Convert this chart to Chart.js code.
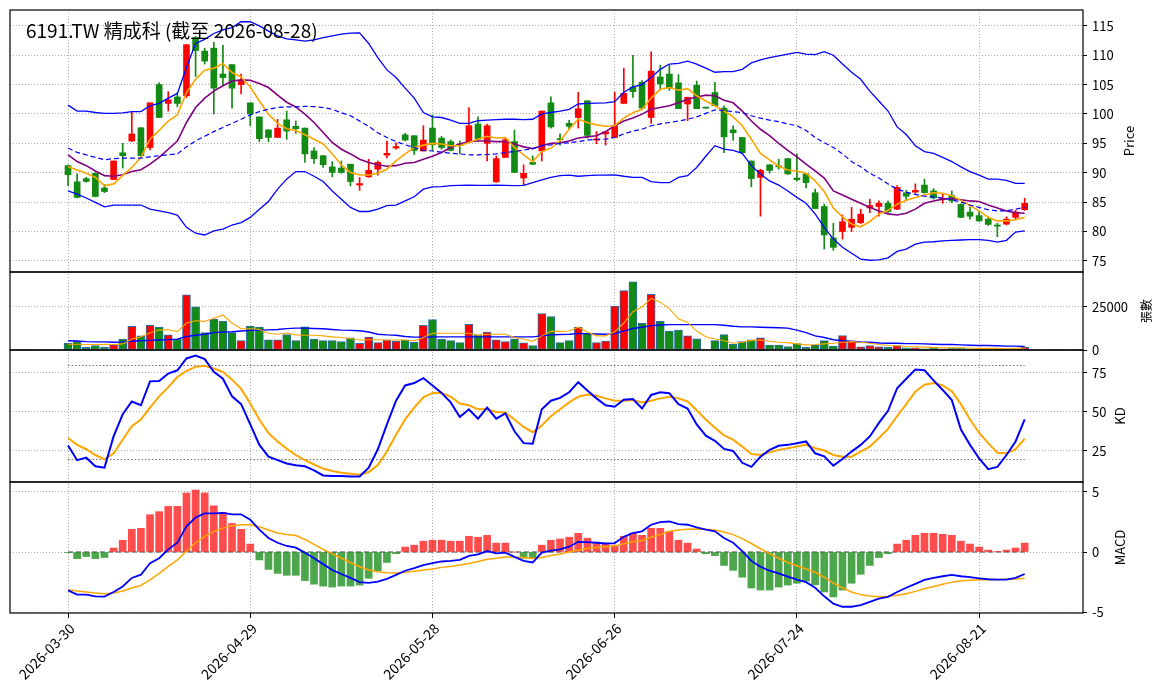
<!DOCTYPE html>
<html><head><meta charset="utf-8">
<script src="https://cdn.jsdelivr.net/npm/chart.js@4.4.1/dist/chart.umd.min.js"></script>
<style>html,body{margin:0;padding:0;background:#fff;}canvas{display:block;}</style>
</head><body>
<canvas id="c" width="1164" height="698"></canvas>
<script>
const dates = ['2026-03-30','2026-03-31','2026-04-01','2026-04-02','2026-04-07','2026-04-08','2026-04-09','2026-04-10','2026-04-13','2026-04-14','2026-04-15','2026-04-16','2026-04-17','2026-04-20','2026-04-21','2026-04-22','2026-04-23','2026-04-24','2026-04-27','2026-04-28','2026-04-29',
'2026-04-30','2026-05-04','2026-05-05','2026-05-06','2026-05-07','2026-05-08','2026-05-11','2026-05-12','2026-05-13','2026-05-14','2026-05-15','2026-05-18','2026-05-19','2026-05-20','2026-05-21','2026-05-22','2026-05-25','2026-05-26','2026-05-27','2026-05-28',
'2026-05-29','2026-06-01','2026-06-02','2026-06-03','2026-06-04','2026-06-05','2026-06-08','2026-06-09','2026-06-10','2026-06-11','2026-06-12','2026-06-15','2026-06-16','2026-06-17','2026-06-18','2026-06-22','2026-06-23','2026-06-24','2026-06-25','2026-06-26',
'2026-06-29','2026-06-30','2026-07-01','2026-07-02','2026-07-03','2026-07-06','2026-07-07','2026-07-08','2026-07-09','2026-07-10','2026-07-13','2026-07-14','2026-07-15','2026-07-16','2026-07-17','2026-07-20','2026-07-21','2026-07-22','2026-07-23','2026-07-24',
'2026-07-27','2026-07-28','2026-07-29','2026-07-30','2026-07-31','2026-08-03','2026-08-04','2026-08-05','2026-08-06','2026-08-07','2026-08-10','2026-08-11','2026-08-12','2026-08-13','2026-08-14','2026-08-17','2026-08-18','2026-08-19','2026-08-20','2026-08-21',
'2026-08-24','2026-08-25','2026-08-26','2026-08-27','2026-08-28'];

const opens = [91.2,88.45,89.0,89.9,87.4,88.85,93.4,95.4,97.65,94.3,105.0,101.8,102.9,103.1,113.0,110.7,111.2,106.8,108.4,105.0,101.9,99.5,97.3,96.0,99.0,97.9,97.6,93.7,92.9,91.0,90.8,91.45,87.9,89.3,90.6,93.0,94.2,96.45,96.3,93.7,97.6,95.9,95.3,94.9,95.3,98.3,95.0,88.45,92.6,95.3,89.1,91.75,93.7,101.9,95.8,98.4,99.4,102.25,95.55,96.6,96.0,101.8,104.6,105.4,99.4,106.3,106.8,105.3,101.7,104.9,101.1,103.65,101.0,97.3,96.0,92.0,89.2,91.35,91.15,92.4,89.1,89.8,86.6,84.25,78.9,80.0,80.7,81.5,84.0,84.25,84.8,83.8,86.6,86.7,87.9,86.9,85.4,86.1,84.6,83.3,82.7,82.1,81.1,81.25,82.4,83.7];
const highs = [91.3,89.8,89.2,90.0,88.0,92.0,95.0,100.4,97.7,101.9,105.3,103.8,103.6,111.8,113.2,111.2,112.2,111.7,108.4,106.8,101.9,99.5,97.3,99.1,100.5,98.8,97.6,94.3,92.9,91.9,92.0,91.45,89.2,92.3,92.0,95.4,95.1,96.7,96.3,98.0,99.85,96.2,95.6,95.4,101.1,99.5,98.3,92.85,96.0,97.25,91.35,92.85,100.5,102.9,96.6,98.9,103.7,102.25,97.0,96.95,103.7,107.8,110.0,105.7,110.6,108.3,108.3,106.7,102.85,105.6,101.15,105.4,101.4,98.0,96.0,92.0,90.6,91.35,92.3,92.4,93.2,89.9,87.2,84.65,81.4,82.8,84.1,83.8,85.5,85.2,85.2,87.8,87.0,88.1,88.9,87.3,86.5,86.9,84.7,84.1,83.5,82.5,81.4,82.5,83.6,85.65];
const lows = [87.8,85.7,88.4,85.9,86.6,88.8,90.8,95.3,92.8,93.9,99.4,100.5,101.2,102.8,106.4,108.5,100.0,105.0,101.0,103.4,98.0,95.3,95.3,96.0,95.7,96.7,91.75,91.6,90.9,89.3,89.9,87.75,87.0,89.2,89.6,92.5,94.0,95.4,93.1,93.7,93.8,94.0,93.7,93.2,95.3,95.4,92.0,88.35,92.6,90.05,87.9,91.35,92.0,97.6,94.7,97.4,97.6,95.9,94.95,94.7,96.0,101.8,102.8,100.8,98.4,104.1,104.0,100.9,98.85,100.9,100.95,101.4,93.4,95.5,93.4,87.6,82.6,89.9,90.6,89.7,88.6,87.4,83.9,77.0,76.8,78.7,80.0,81.3,83.2,82.6,83.2,83.7,85.3,86.5,86.5,85.5,84.8,84.9,82.4,82.1,81.7,81.0,79.1,81.1,82.0,83.6];
const closes = [89.65,85.8,88.5,85.95,86.8,92.0,92.9,96.6,92.9,101.9,99.4,102.4,101.8,111.8,110.8,109.0,104.4,106.2,104.4,105.75,100.0,95.8,96.0,97.6,97.1,97.5,93.2,92.4,91.35,90.05,90.05,88.5,88.15,90.4,91.75,93.3,94.45,95.55,93.8,95.55,94.75,94.3,93.8,94.6,98.0,95.7,98.0,92.4,95.6,90.05,89.9,91.45,100.5,97.8,95.6,97.9,100.9,96.35,95.75,96.95,98.0,103.5,103.8,101.0,107.3,105.1,104.4,100.9,102.85,100.9,101.0,101.4,96.1,96.8,93.4,89.0,90.4,90.4,91.0,89.8,88.8,88.3,83.9,79.4,77.3,81.65,82.1,82.95,84.4,84.8,83.4,87.5,86.0,87.0,86.6,85.7,85.65,85.2,82.4,82.6,81.8,81.2,80.9,82.1,83.3,84.8];

const bbUpper = [101.5,100.5,100.5,100.25,100.1,100.1,100.2,100.4,100.4,101.4,101.8,102.7,103.5,107.9,112.0,112.7,113.7,114.3,114.7,115.7,115.7,115.0,114.1,113.3,112.8,112.6,112.4,112.6,113.0,113.3,113.6,113.75,113.8,112.0,109.6,107.5,106.2,104.4,102.7,100.25,99.5,99.4,98.95,98.4,98.4,98.85,98.95,99.05,99.1,99.1,99.05,99.1,100.0,100.25,100.5,100.8,101.7,101.8,101.85,101.9,102.1,103.7,104.6,105.0,106.2,107.6,108.5,108.6,109.0,108.5,107.8,107.1,107.2,107.2,107.6,108.7,109.2,109.6,109.9,110.2,110.5,110.2,110.1,110.6,110.0,108.5,107.1,105.9,103.9,102.2,100.5,97.8,96.5,94.6,93.6,93.3,92.6,91.9,91.0,90.2,89.6,88.9,88.9,88.7,88.2,88.2];
const bbMid = [94.2,93.45,93.05,92.6,92.2,92.4,92.5,92.5,92.5,92.7,92.9,93.05,93.2,94.4,95.4,96.2,97.0,97.7,98.4,99.1,99.85,100.4,100.8,101.1,101.2,101.2,101.3,101.25,101.1,100.8,100.2,99.7,98.8,97.9,96.8,96.0,95.3,94.75,94.3,93.8,93.7,93.5,93.3,93.2,93.05,93.05,93.1,93.2,93.45,93.6,93.85,94.1,94.6,94.75,95.0,95.1,95.3,95.55,95.7,95.7,96.0,96.6,97.1,97.4,98.0,98.3,98.55,98.8,99.1,99.5,100.1,100.7,100.6,100.4,100.25,99.7,99.3,98.95,98.7,98.3,98.0,97.2,96.0,95.1,94.3,93.2,91.9,91.0,89.9,89.1,88.1,87.2,86.7,86.3,86.0,85.85,85.7,85.4,85.0,84.5,84.1,83.7,83.5,83.5,83.8,84.1];
const bbLower = [86.9,86.35,85.7,84.95,84.2,84.5,84.5,84.5,84.5,83.8,83.5,83.2,82.8,80.7,79.7,79.4,80.1,80.4,81.1,81.5,82.4,83.8,85.1,87.2,88.9,90.2,90.2,89.4,88.5,86.9,85.5,84.1,83.4,83.4,83.8,84.4,84.5,85.2,85.9,87.2,87.6,87.65,87.8,87.85,87.9,87.85,87.85,87.9,87.85,87.8,87.85,88.3,88.8,89.2,89.5,89.6,89.4,89.5,89.6,89.6,89.65,89.4,89.2,89.2,88.5,88.3,88.3,89.2,89.5,90.9,92.8,94.6,94.0,93.8,93.3,91.2,89.8,88.6,87.9,86.9,85.8,84.8,83.0,80.7,78.7,77.3,76.3,75.3,75.1,75.15,75.5,76.6,77.0,77.85,78.2,78.25,78.4,78.5,78.55,78.6,78.6,78.5,78.2,78.5,79.9,80.1];
const ma5 = [91.0,90.45,89.9,89.2,87.8,88.1,89.5,90.9,92.6,95.7,97.2,98.8,99.85,103.65,105.9,107.45,107.8,108.6,107.05,106.3,104.6,102.2,99.97,98.4,97.5,97.2,96.45,95.7,94.9,93.2,91.35,90.05,89.6,89.6,89.9,90.6,92.0,93.2,94.3,94.7,95.0,94.9,94.6,94.6,95.15,95.7,96.2,95.9,96.0,94.3,93.05,91.9,93.6,94.2,95.4,97.4,99.1,98.55,98.15,97.9,98.0,99.3,100.2,100.8,102.7,104.2,104.5,104.05,104.3,103.1,102.2,101.4,100.5,99.5,98.0,95.7,93.3,92.2,91.1,90.45,90.3,89.9,88.6,86.8,84.0,82.5,81.25,80.8,81.7,82.95,83.6,84.65,85.3,85.8,86.2,86.6,86.5,86.1,85.3,84.4,83.5,82.4,81.8,81.8,82.0,82.4];
const ma10 = [93.05,91.9,91.2,90.3,89.5,89.4,89.65,90.2,90.5,91.45,92.6,94.0,95.4,98.55,101.1,102.7,103.9,104.8,105.6,105.8,105.75,105.2,104.5,103.2,102.0,101.2,99.97,98.55,96.85,95.15,94.0,93.2,92.3,91.75,91.35,91.1,91.2,91.6,91.75,92.3,92.8,93.45,94.3,94.9,95.3,95.4,95.4,95.3,95.3,94.9,94.4,94.1,94.6,95.0,95.1,95.4,95.9,96.1,96.3,97.0,98.0,98.8,99.3,99.97,100.8,101.1,101.4,101.9,102.5,102.9,103.2,103.1,102.35,101.9,100.5,98.8,97.4,96.3,95.0,93.8,92.7,91.45,90.3,89.1,86.9,86.2,85.5,84.8,84.1,83.5,83.0,82.8,83.1,83.8,84.8,85.2,85.5,85.6,85.4,85.2,85.1,84.5,84.0,83.5,83.2,83.1];

const volume = [3920,4850,1500,2610,1500,2990,6340,13800,8210,14370,13250,8770,6340,32100,25000,10080,17900,16600,10080,5400,13800,13250,5970,5970,8900,5400,13430,6340,5400,5400,4850,7090,3920,7460,4290,5780,5040,5780,4480,14370,17730,6160,5400,4290,14930,8770,10450,5970,4850,6530,4100,2610,21090,19400,4290,5400,13250,9700,4290,5220,25560,34520,39560,15490,32280,16600,11000,11570,8210,6530,0,5400,8960,3360,4850,5970,7090,2800,2800,2050,3730,1500,2800,5400,2240,8400,5040,1870,2610,1870,1500,2610,1300,1300,750,1300,750,1120,1120,750,750,750,750,750,750,1680];
const volMA5 = [3360,3360,3200,3200,3360,3200,3540,6340,7650,10080,11570,11940,10640,15670,16980,16600,18470,20340,15670,12300,12300,11940,9700,9140,9900,8770,8580,8580,8210,7650,7280,6720,5780,5970,5970,5780,5780,5780,5400,7280,9700,9700,9700,9700,9700,8580,9140,9140,9140,7280,6340,5040,8210,10820,10820,11000,13250,10450,8210,8210,10640,15670,22200,25000,30040,27800,24070,18100,16050,11000,7650,6340,5400,3920,4480,5600,5780,5040,4480,4290,3540,2990,3170,3540,3920,4480,4850,4480,3920,3170,2610,2430,2050,1870,1680,1500,1300,1300,1300,1120,930,930,930,750,930,1120];
const volMA20 = [5400,5200,4850,4700,4700,4480,4700,5040,5400,5600,5780,6000,6340,7840,8580,9140,10080,10450,10640,11000,11380,11570,11700,11940,12400,12690,12690,12500,12320,11940,11570,11400,11200,10450,9140,8770,8580,7840,7460,7460,7650,7650,7650,7650,7650,7650,7650,7650,7650,7650,7650,7650,8210,8770,8960,9140,9520,9520,9330,9140,9520,11000,12500,13250,14180,14560,14740,14740,14740,14740,14740,14740,14370,13810,13430,13430,13250,13060,12880,12690,11570,10080,8210,7280,5970,5400,5040,4660,4480,4100,3920,3920,3730,3730,3540,3360,3170,3170,2990,2800,2610,2610,2430,2240,2240,2050];

const kLine = [28.5,19.1,20.7,15.2,14.3,34.3,48.5,56.7,54.3,69.6,69.8,74.6,76.7,84.3,86.1,83.9,75.7,71.3,60.0,55.0,42.0,28.9,21.3,19.1,17.0,15.9,15.2,12.6,9.3,8.9,8.9,8.7,8.7,14.3,26.1,42.0,57.2,67.0,68.5,71.7,67.0,62.2,56.1,46.7,51.7,45.7,52.8,45.7,49.1,37.6,30.0,29.6,51.7,57.2,59.0,62.6,69.1,63.7,58.7,54.3,53.3,57.8,58.3,52.2,60.9,62.6,62.0,55.0,52.2,42.0,34.8,31.5,26.3,25.0,17.4,14.8,21.3,25.7,28.3,28.9,30.0,31.1,23.5,21.5,15.6,19.8,24.6,28.9,34.3,43.0,50.7,65.2,71.3,77.2,76.7,70.2,64.1,57.6,38.7,28.9,20.2,13.3,14.8,22.4,31.1,45.2];
const dLine = [33.3,28.9,26.1,22.4,19.6,23.5,32.2,40.9,45.2,52.8,60.0,65.9,72.4,76.3,78.9,79.6,77.8,75.7,70.7,64.8,55.4,45.2,36.5,31.1,26.5,22.4,19.1,16.3,13.7,12.2,11.1,10.4,9.8,11.5,15.9,24.6,35.4,45.2,52.8,59.3,62.2,62.2,59.8,55.4,54.3,51.7,51.7,50.0,49.6,45.2,40.4,37.0,41.3,47.2,51.7,56.1,59.8,61.1,60.4,58.7,57.2,57.2,57.6,56.1,57.2,58.7,59.8,58.7,56.7,51.1,45.2,39.8,35.0,32.2,27.8,23.0,22.4,24.1,25.7,26.7,27.8,28.9,26.7,25.3,22.4,21.3,21.3,24.6,27.8,33.3,39.1,47.4,55.0,63.0,67.4,68.5,67.0,63.3,55.0,45.2,36.5,30.0,23.9,23.5,26.1,32.8];

const macdHist = [-0.03,-0.55,-0.38,-0.55,-0.46,0.33,0.98,1.89,1.97,3.11,3.36,3.80,3.80,4.92,5.16,4.92,3.85,3.31,2.38,1.89,0.66,-0.66,-1.45,-1.78,-1.94,-1.94,-2.38,-2.68,-2.84,-2.92,-2.84,-2.84,-2.76,-2.19,-1.56,-0.87,-0.14,0.41,0.57,0.90,0.98,0.98,0.90,0.90,1.31,1.23,1.39,0.74,0.74,0.0,-0.52,-0.52,0.57,0.98,1.09,1.23,1.56,1.15,0.82,0.63,0.57,1.31,1.58,1.39,1.97,1.97,1.72,0.98,0.74,0.25,-0.14,-0.30,-1.12,-1.53,-2.10,-3.0,-3.17,-3.17,-2.92,-2.76,-2.60,-2.43,-2.73,-3.33,-3.74,-3.17,-2.60,-1.86,-1.12,-0.46,-0.14,0.66,0.98,1.39,1.56,1.56,1.48,1.39,0.90,0.66,0.41,0.16,0.03,0.16,0.33,0.74];
const macdDif = [-3.2,-3.55,-3.55,-3.69,-3.72,-3.33,-2.87,-2.16,-1.89,-0.93,-0.52,0.22,0.77,2.13,2.87,3.22,3.22,3.25,3.14,3.14,2.68,1.86,1.17,0.77,0.50,0.36,-0.05,-0.52,-1.01,-1.50,-1.83,-2.16,-2.51,-2.57,-2.46,-2.24,-1.91,-1.56,-1.34,-1.09,-0.93,-0.79,-0.74,-0.66,-0.33,-0.19,0.08,-0.11,-0.05,-0.41,-0.74,-0.87,-0.05,0.12,0.22,0.44,0.85,0.82,0.77,0.71,0.74,1.26,1.58,1.72,2.27,2.49,2.54,2.32,2.27,2.05,1.86,1.72,1.17,0.77,0.08,-0.74,-1.23,-1.56,-1.78,-2.05,-2.30,-2.51,-2.98,-3.69,-4.3,-4.56,-4.56,-4.43,-4.15,-3.88,-3.74,-3.33,-2.98,-2.65,-2.32,-2.16,-2.02,-1.91,-2.02,-2.10,-2.19,-2.27,-2.30,-2.30,-2.16,-1.83];
const macdSignal = [-3.14,-3.25,-3.33,-3.42,-3.47,-3.42,-3.25,-3.0,-2.79,-2.32,-1.78,-1.20,-0.66,0.08,0.77,1.31,1.72,1.99,2.19,2.27,2.27,2.10,1.83,1.58,1.45,1.37,1.04,0.63,0.22,-0.14,-0.52,-0.87,-1.23,-1.50,-1.64,-1.72,-1.75,-1.69,-1.61,-1.50,-1.42,-1.28,-1.20,-1.09,-0.96,-0.79,-0.60,-0.52,-0.41,-0.41,-0.46,-0.55,-0.46,-0.30,-0.17,0.0,0.16,0.30,0.38,0.44,0.49,0.68,0.85,0.96,1.23,1.45,1.72,1.83,1.89,1.91,1.89,1.83,1.67,1.45,1.12,0.71,0.27,-0.14,-0.52,-0.87,-1.15,-1.42,-1.69,-2.10,-2.60,-2.98,-3.33,-3.55,-3.66,-3.72,-3.69,-3.61,-3.47,-3.28,-3.06,-2.87,-2.68,-2.51,-2.40,-2.35,-2.32,-2.32,-2.30,-2.27,-2.24,-2.19];

const xTickIndex = [0,20,40,60,80,100];
const priceTicks = [75,80,85,90,95,100,105,110,115];
const volTicks = [0,25000];
const kdTicks = [25,50,75];
const macdTicks = [-5,0,5];
const kdRefLevels = [20,80];
const titleText = '6191.TW 精成科 (截至 2026-08-28)';

const N = dates.length;
const idx = dates.map((d,i)=>i);
const pts = arr => arr.map((v,i)=>({x:i,y:v}));
const up = i => closes[i] >= opens[i];
const RED = '#ff0000', GREEN = '#138a13';
const FONT = '"Noto Sans CJK TC","Noto Sans",sans-serif';
const GRID = { color:'#aaaaaa', lineWidth:1, drawTicks:true, tickColor:'#000', tickBorderDash:[], tickWidth:1 };
const BORDER = { display:false, dash:[1,2] };

Chart.defaults.font.family = FONT;
Chart.defaults.color = '#000';

function yPanel(min, max, weight, ticks) {
  return {
    type:'linear', position:'right', stack:'panels', stackWeight:weight, min:min, max:max, offset:false,
    afterBuildTicks: s => { s.ticks = ticks.map(v=>({value:v})); },
    afterFit: s => { s.width = 81; s.paddingTop = 0; s.paddingBottom = 0; },
    ticks: { font:{size:13}, padding:5, color:'#000', callback: v => String(v) },
    grid: Object.assign({ tickLength:4 }, GRID),
    border: BORDER
  };
}

const line = (data, axis, color, width, extra) => Object.assign({
  type:'line', data:pts(data), yAxisID:axis, borderColor:color, borderWidth:width,
  pointRadius:0, fill:false, tension:0, order:0
}, extra||{});

const deco = {
  id:'deco',
  beforeDatasetsDraw(chart){
    const {ctx, scales:s} = chart;
    const x0 = s.x.getPixelForValue(0), x1 = s.x.getPixelForValue(N-1);
    ctx.save();
    ctx.strokeStyle = '#707070'; ctx.lineWidth = 1; ctx.setLineDash([1.5,2]);
    kdRefLevels.forEach(v=>{ const y = Math.round(s.yK.getPixelForValue(v))+0.5; ctx.beginPath(); ctx.moveTo(x0,y); ctx.lineTo(x1,y); ctx.stroke(); });
    ctx.strokeStyle = '#808080'; ctx.lineWidth = 1.5; ctx.setLineDash([5,3]);
    const y0 = s.yM.getPixelForValue(0); ctx.beginPath(); ctx.moveTo(x0,y0); ctx.lineTo(x1,y0); ctx.stroke();
    ctx.restore();
  },
  afterDraw(chart){
    const {ctx, chartArea:a, scales:s} = chart;
    ctx.save();
    ctx.strokeStyle = '#000'; ctx.lineWidth = 1.2; ctx.setLineDash([]);
    ['yP','yV','yK','yM'].forEach(k=>{ const sc = s[k]; ctx.strokeRect(a.left, sc.top, a.right-a.left, sc.bottom-sc.top); });
    ctx.fillStyle = '#000';
    ctx.font = '19px ' + FONT; ctx.textAlign = 'left'; ctx.textBaseline = 'alphabetic';
    ctx.fillText(titleText, a.left + 16, s.yP.top + 28);
    const vt = (txt, x, sc, size) => {
      ctx.save(); ctx.font = size + 'px ' + FONT; ctx.textAlign = 'center'; ctx.textBaseline = 'middle';
      ctx.translate(x, (sc.top + sc.bottom)/2); ctx.rotate(-Math.PI/2); ctx.fillText(txt, 0, 0); ctx.restore();
    };
    vt('Price', 1129, s.yP, 13);
    vt('張數', 1146, s.yV, 12);
    vt('KD', 1120, s.yK, 13);
    vt('MACD', 1120, s.yM, 13);
    ctx.restore();
  }
};

new Chart(document.getElementById('c'), {
  type:'bar',
  data:{ datasets:[
    line(bbUpper,'yP','#0000ff',1.3),
    line(bbMid,'yP','#0000ff',1.2,{borderDash:[5,3]}),
    line(bbLower,'yP','#0000ff',1.3),
    line(ma5,'yP','#ffa500',1.6),
    line(ma10,'yP','#800080',1.6),
    { type:'bar', data: idx.map(i=>({x:i, y:[opens[i], closes[i]]})), yAxisID:'yP', grouped:false, barThickness:6, minBarLength:1,
      backgroundColor: c=>up(c.dataIndex)?RED:GREEN, borderWidth:0, order:2 },
    { type:'bar', data: idx.map(i=>({x:i, y:[lows[i], highs[i]]})), yAxisID:'yP', grouped:false, barThickness:1,
      backgroundColor: c=>up(c.dataIndex)?RED:GREEN, borderWidth:0, order:3 },
    { type:'bar', data: pts(volume), yAxisID:'yV', grouped:false, barThickness:8,
      backgroundColor: c=>up(c.dataIndex)?RED:GREEN, borderColor:'#2b6ea6', borderWidth:1, borderSkipped:false, order:2 },
    line(volMA5,'yV','#ffa500',1.1),
    line(volMA20,'yV','#0000ff',1.4),
    line(kLine,'yK','#0000ff',2),
    line(dLine,'yK','#ffa500',2),
    { type:'bar', data: pts(macdHist), yAxisID:'yM', grouped:false, barThickness:7,
      backgroundColor: c=>macdHist[c.dataIndex]>=0?'rgba(255,0,0,0.7)':'rgba(0,128,0,0.7)', borderWidth:0, order:2 },
    line(macdDif,'yM','#0000ff',1.8),
    line(macdSignal,'yM','#ffa500',1.5)
  ]},
  options:{
    responsive:false, animation:false, devicePixelRatio:1,
    layout:{ padding:{ left:10, top:10, right:0, bottom:0 } },
    plugins:{ legend:{display:false}, tooltip:{enabled:false}, title:{display:false} },
    scales:{
      x:{ type:'linear', position:'bottom', min:-6.37, max:111.4, offset:false,
        afterBuildTicks: s => { s.ticks = xTickIndex.map(v=>({value:v})); },
        afterFit: s => { s.height = 85; s.paddingLeft = 0; s.paddingRight = 0; },
        ticks:{ autoSkip:false, minRotation:45, maxRotation:45, font:{size:14}, color:'#000', padding:2, labelOffset:4,
          callback: v => dates[v] },
        grid: Object.assign({ offset:false, tickLength:5 }, GRID),
        border: BORDER
      },
      yP: yPanel(73.1, 117.7, 262, priceTicks),
      yV: yPanel(0, 45300, 78, volTicks),
      yK: yPanel(5.1, 89.7, 132, kdTicks),
      yM: yPanel(-5.08, 5.83, 131, macdTicks)
    }
  },
  plugins:[deco]
});
</script>
</body></html>
